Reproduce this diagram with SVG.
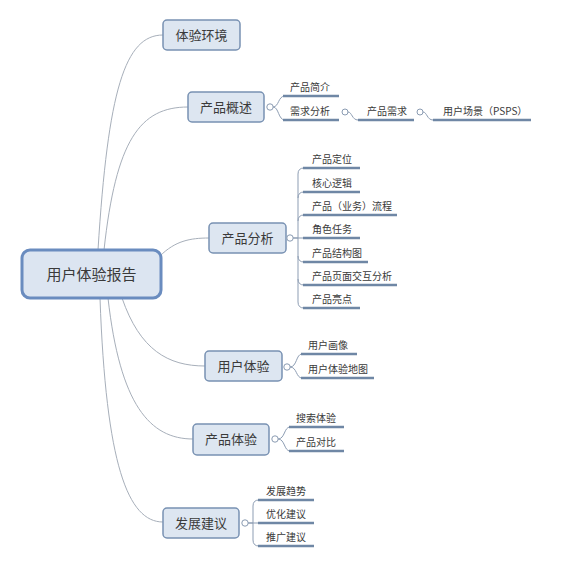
<svg xmlns="http://www.w3.org/2000/svg" width="565" height="565" viewBox="0 0 565 565">
<style>
text{font-family:"Noto Sans CJK SC","Noto Sans",sans-serif;fill:#3a3a3a}
.main rect{fill:#dde6f1;stroke:#7891b2;stroke-width:1.5}
.main text{font-size:13px;text-anchor:middle}
.root rect{fill:#dce5f1;stroke:#6a8cbf;stroke-width:3}
.root text{font-size:15px;text-anchor:middle}
.sub text{font-size:10px}
.ul{stroke:#6f87a5;stroke-width:2.5;fill:none}
.con{fill:none;stroke:#a7afba;stroke-width:1}
.bc{fill:none;stroke:#8d9db3;stroke-width:1}
.dot{fill:#fff;stroke:#8a9bb2;stroke-width:1}
</style>
<rect width="565" height="565" fill="#fff"/>
<g id="connectors">
<path class="con" d="M98,250 C108,90 125,35 163,35"/>
<path class="con" d="M104,250 C116,140 140,107 188,107"/>
<path class="con" d="M160,256 C175,241 190,238 209,238"/>
<path class="con" d="M122,298 C140,350 168,366 205,366"/>
<path class="con" d="M108,298 C120,405 150,439 193,439"/>
<path class="con" d="M100,298 C106,465 128,522 163,522"/>
<path class="bc" d="M273,107 C279,107 278,96 285,96 M273,107 C279,107 278,120 285,120"/>
<path class="bc" d="M348,112 C352,112 352,120 358,120 M423,112 C427,112 427,120 433,120"/>
<path class="bc" d="M293,238 H298 V174 Q298,168 304,168 M298,198 Q298,192 304,192 M298,221 Q298,215 304,215 M293,238 H304 M298,238 V302 Q298,308 304,308 M298,256 Q298,262 304,262 M298,279 Q298,285 304,285"/>
<path class="bc" d="M290,367 C297,367 296,354 302,354 M290,367 C297,367 296,378 302,378"/>
<path class="bc" d="M278,439 C285,439 284,427 290,427 M278,439 C285,439 284,451 290,451"/>
<path class="bc" d="M248,523 H253 V506 Q253,500 259,500 M248,523 H259 M253,523 V540 Q253,546 259,546"/>
</g>
<g id="root" class="root"><rect x="22" y="250" width="139" height="48" rx="8"/><text x="91.5" y="279.5">用户体验报告</text></g>
<g id="n1" class="main"><rect x="163" y="20" width="77" height="30" rx="4"/><text x="201.5" y="39.5">体验环境</text></g>
<g id="n2" class="main"><rect x="188" y="92" width="76" height="30" rx="4"/><text x="226" y="111.5">产品概述</text><circle class="dot" cx="270" cy="107" r="3.2"/></g>
<g id="n3" class="main"><rect x="209" y="223" width="77" height="30" rx="4"/><text x="247.5" y="242.5">产品分析</text><circle class="dot" cx="290" cy="238" r="3.2"/></g>
<g id="n4" class="main"><rect x="205" y="351" width="77" height="30" rx="4"/><text x="243.5" y="370.5">用户体验</text><circle class="dot" cx="287" cy="367" r="3.2"/></g>
<g id="n5" class="main"><rect x="193" y="424" width="76" height="31" rx="4"/><text x="231" y="444">产品体验</text><circle class="dot" cx="275" cy="439" r="3.2"/></g>
<g id="n6" class="main"><rect x="163" y="508" width="76" height="30" rx="4"/><text x="201" y="527.5">发展建议</text><circle class="dot" cx="245" cy="523" r="3.2"/></g>
<g id="n2a" class="sub"><line class="ul" x1="283" y1="96" x2="339" y2="96"/><text x="290" y="91">产品简介</text></g>
<g id="n2b" class="sub"><line class="ul" x1="283" y1="120" x2="339" y2="120"/><text x="290" y="115">需求分析</text><circle class="dot" cx="345" cy="112" r="3"/></g>
<g id="n2c" class="sub"><line class="ul" x1="358" y1="120" x2="414" y2="120"/><text x="367" y="115">产品需求</text><circle class="dot" cx="420" cy="112" r="3"/></g>
<g id="n2d" class="sub"><line class="ul" x1="433" y1="120" x2="531" y2="120"/><text x="443" y="115">用户场景（PSPS）</text></g>
<g id="n3a" class="sub"><line class="ul" x1="303" y1="168" x2="360" y2="168"/><text x="312" y="163">产品定位</text></g>
<g id="n3b" class="sub"><line class="ul" x1="303" y1="192" x2="360" y2="192"/><text x="312" y="187">核心逻辑</text></g>
<g id="n3c" class="sub"><line class="ul" x1="303" y1="215" x2="397" y2="215"/><text x="312" y="210">产品（业务）流程</text></g>
<g id="n3d" class="sub"><line class="ul" x1="303" y1="238" x2="360" y2="238"/><text x="312" y="233">角色任务</text></g>
<g id="n3e" class="sub"><line class="ul" x1="303" y1="262" x2="368" y2="262"/><text x="312" y="257">产品结构图</text></g>
<g id="n3f" class="sub"><line class="ul" x1="303" y1="285" x2="397" y2="285"/><text x="312" y="280">产品页面交互分析</text></g>
<g id="n3g" class="sub"><line class="ul" x1="303" y1="308" x2="360" y2="308"/><text x="312" y="303">产品亮点</text></g>
<g id="n4a" class="sub"><line class="ul" x1="301" y1="354" x2="357" y2="354"/><text x="308" y="349">用户画像</text></g>
<g id="n4b" class="sub"><line class="ul" x1="301" y1="378" x2="374" y2="378"/><text x="308" y="373">用户体验地图</text></g>
<g id="n5a" class="sub"><line class="ul" x1="289" y1="427" x2="344" y2="427"/><text x="296" y="422">搜索体验</text></g>
<g id="n5b" class="sub"><line class="ul" x1="289" y1="451" x2="344" y2="451"/><text x="296" y="446">产品对比</text></g>
<g id="n6a" class="sub"><line class="ul" x1="258" y1="500" x2="314" y2="500"/><text x="266" y="495">发展趋势</text></g>
<g id="n6b" class="sub"><line class="ul" x1="258" y1="523" x2="314" y2="523"/><text x="266" y="518">优化建议</text></g>
<g id="n6c" class="sub"><line class="ul" x1="258" y1="546" x2="314" y2="546"/><text x="266" y="541">推广建议</text></g>
</svg>
